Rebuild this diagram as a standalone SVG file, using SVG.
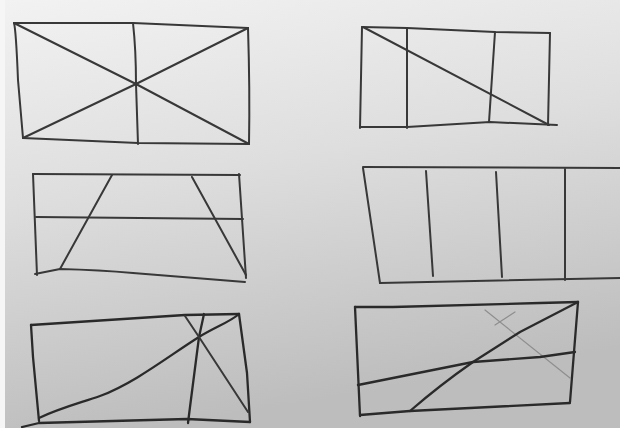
<svg xmlns="http://www.w3.org/2000/svg" width="620" height="428" viewBox="0 0 620 428">
<defs>
<linearGradient id="paper" x1="0" y1="0" x2="0.25" y2="1">
<stop offset="0" stop-color="#f2f2f2"/>
<stop offset="0.45" stop-color="#dedede"/>
<stop offset="1" stop-color="#bdbdbd"/>
</linearGradient>
</defs>
<style>
.ln{fill:none;stroke:#383838;stroke-width:2;stroke-linecap:round;stroke-linejoin:round}
.dk{stroke:#2a2a2a;stroke-width:2.3}
.fa{fill:none;stroke:#8e8e8e;stroke-width:1.2;stroke-linecap:round}
</style>
<rect width="620" height="428" fill="#f6f6f6"/>
<rect x="5" y="0" width="615" height="428" fill="url(#paper)"/>
<g id="panel1">
<path class="ln" d="M14,23 L133,23 L248,28"/>
<path class="ln" d="M248,28 Q250,90 249,144"/>
<path class="ln" d="M23,138 L138,143 L249,144"/>
<path class="ln" d="M14,23 Q16,30 18,80 L23,138"/>
<path class="ln" d="M133,23 Q136,50 136,84 L138,144"/>
<path class="ln" d="M14,23 L136,84 L249,144"/>
<path class="ln" d="M248,28 L136,84 L23,138"/>
</g>
<g id="panel2">
<path class="ln" d="M362,27 L407,28 L495,32 L550,33"/>
<path class="ln" d="M550,33 L548,125"/>
<path class="ln" d="M360,127 L407,127 L490,122 L557,125"/>
<path class="ln" d="M362,27 L360,128"/>
<path class="ln" d="M407,28 L407,128"/>
<path class="ln" d="M495,32 L489,122"/>
<path class="ln" d="M363,27 L549,125"/>
</g>
<g id="panel3">
<path class="ln" d="M33,174 L240,175"/>
<path class="ln" d="M33,174 L37,275"/>
<path class="ln" d="M239,174 L246,278"/>
<path class="ln" d="M35,274 L60,269 Q100,270 133,273 L245,282"/>
<path class="ln" d="M36,217 L243,219"/>
<path class="ln" d="M112,175 L60,269"/>
<path class="ln" d="M192,177 L246,275"/>
</g>
<g id="panel4">
<path class="ln" d="M363,167 L620,168"/>
<path class="ln" d="M363,168 L380,283"/>
<path class="ln" d="M380,283 L620,278"/>
<path class="ln" d="M426,171 L433,276"/>
<path class="ln" d="M496,172 L502,277"/>
<path class="ln" d="M565,169 L565,280"/>
</g>
<g id="panel5">
<path class="ln dk" d="M31,325 L185,315 L239,314"/>
<path class="ln dk" d="M31,325 L33,357 L39,421"/>
<path class="ln dk" d="M239,314 L247,373 L250,422"/>
<path class="ln dk" d="M22,427 L39,423 L187,419 L250,422"/>
<path class="ln dk" d="M39,418 C60,408 80,403 100,396 C135,383 170,355 199,337 C215,327 230,322 239,314"/>
<path class="ln dk" d="M204,314 L199,337 L190,407 L188,423"/>
<path class="ln" d="M185,316 L199,337 L248,412"/>
</g>
<g id="panel6">
<path class="fa" d="M485,310 L570,378"/>
<path class="fa" d="M515,312 L495,325"/>
<path class="ln dk" d="M355,307 L393,307 L540,303 L578,302"/>
<path class="ln dk" d="M578,302 L570,402"/>
<path class="ln dk" d="M360,415 L410,411 L570,403"/>
<path class="ln dk" d="M355,307 L360,416"/>
<path class="ln dk" d="M358,385 L473,362 L540,357 L575,352"/>
<path class="ln dk" d="M410,411 Q440,385 473,362 L520,332 L578,302"/>
</g>
</svg>
